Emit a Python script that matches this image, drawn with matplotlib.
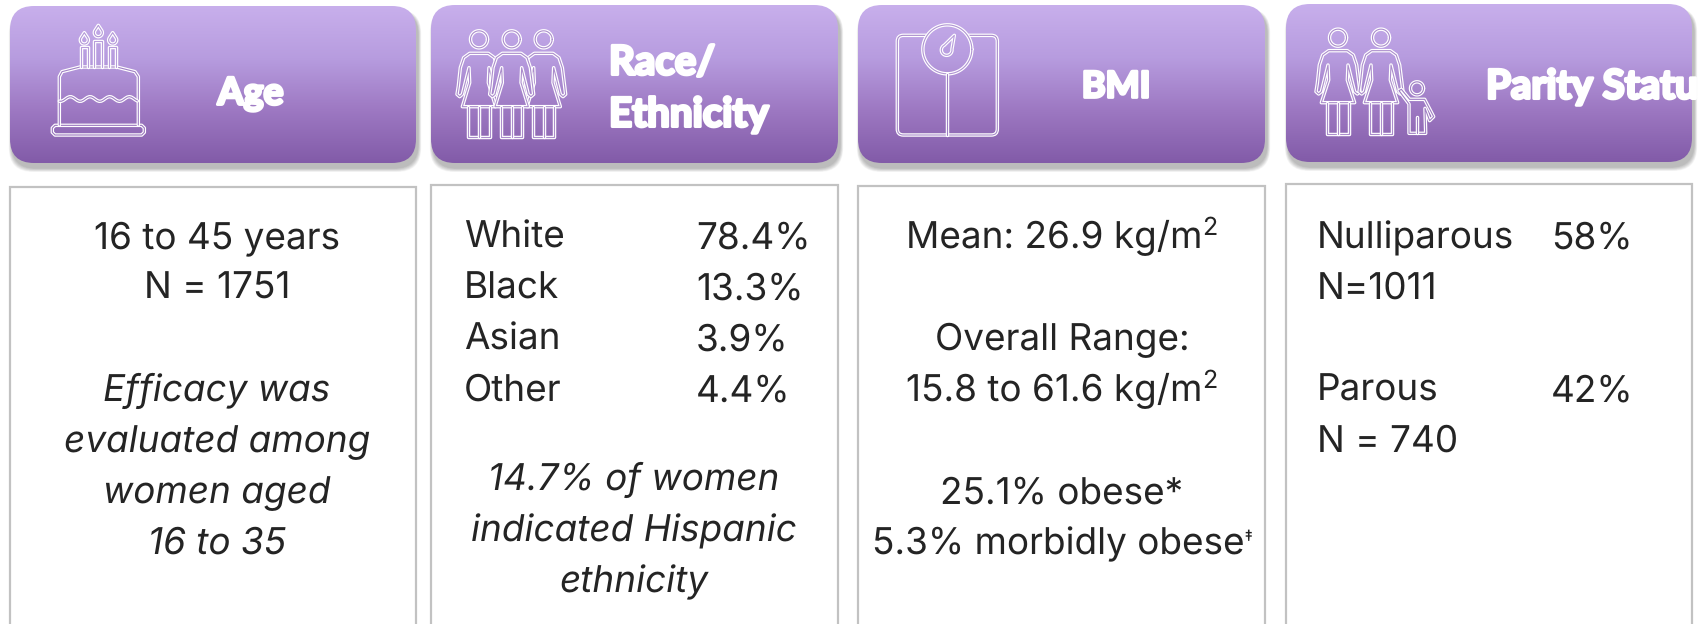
import matplotlib
matplotlib.use("Agg")
import numpy as np
import matplotlib.pyplot as plt
import matplotlib.patheffects as pe
from matplotlib.patches import FancyBboxPatch, Rectangle, PathPatch
from matplotlib.path import Path
from matplotlib.colors import LinearSegmentedColormap

plt.rcParams["text.hinting"] = "no_hinting"
plt.rcParams["text.hinting_factor"] = 1

# ---- content ----
headers = ["Age", "Race/\nEthnicity", "BMI", "Parity Status"]
age_lines = ["16 to 45 years", "N = 1751"]
age_note = ["Efficacy was", "evaluated among", "women aged", "16 to 35"]
race_names = ["White", "Black", "Asian", "Other"]
race_values = ["78.4%", "13.3%", "3.9%", "4.4%"]
race_note = ["14.7% of women", "indicated Hispanic", "ethnicity"]
parity_names = ["Nulliparous", "Parous"]
parity_counts = ["N=1011", "N = 740"]
parity_values = ["58%", "42%"]

W, H = 1703, 624
fig = plt.figure(figsize=(W / 100, H / 100), dpi=100, facecolor="white")
ax = fig.add_axes([0, 0, 1, 1])
ax.set_xlim(0, W); ax.set_ylim(H, 0); ax.axis("off")

FONT = "Inter"
FS = 26.6
TXT = "#242424"
cmap = LinearSegmentedColormap.from_list("h", ["#C8AFEC", "#B79CDF", "#9D78C2", "#825BA8"])
grad = np.linspace(0, 1, 256).reshape(-1, 1)
panels = [(10, 416, 6, 163, 187), (431, 838, 5, 163, 185), (858, 1265, 5, 163, 186), (1286, 1692, 4, 162, 184)]

for x0, x1, y0, y1, by in panels:
    for i in range(8, 0, -1):
        ax.add_patch(FancyBboxPatch((x0 + 2 - i * .4, y0 + 5 - i * .2), x1 - x0 + i * .8, y1 - y0 + i * .7,
                                    boxstyle="round,pad=0,rounding_size=24", fc="#000000", ec="none", alpha=.035, zorder=1))
    p = FancyBboxPatch((x0, y0), x1 - x0, y1 - y0, boxstyle="round,pad=0,rounding_size=24", fc="none", ec="none", zorder=2)
    ax.add_patch(p)
    im = ax.imshow(grad, extent=(x0, x1, y1, y0), cmap=cmap, aspect="auto", zorder=2, interpolation="bilinear")
    im.set_clip_path(p)
    ax.add_patch(Rectangle((x0, by), x1 - x0, H + 20 - by, fc="white", ec="#C2C2C2", lw=1.6, zorder=2))

# ---- outlined icons ----
def stroke(verts, codes=None, closed=False, inner="#A98BCB"):
    if codes is None:
        codes = [Path.MOVETO] + [Path.LINETO] * (len(verts) - 1)
    if closed:
        verts = list(verts) + [verts[0]]; codes = list(codes) + [Path.CLOSEPOLY]
    patch = PathPatch(Path(verts, codes), fc="none", ec=inner, lw=.8, zorder=4, joinstyle="round", capstyle="round",
                      path_effects=[pe.Stroke(linewidth=2.5, foreground="white"), pe.Normal()])
    ax.add_patch(patch)

def circle(cx, cy, r, inner="#A98BCB"):
    t = np.linspace(0, 2 * np.pi, 60)
    stroke(list(zip(cx + r * np.cos(t), cy + r * np.sin(t))), inner=inner)

def smooth(points, ox, s=1 / 3, closed=False, inner="#A98BCB"):
    stroke([(ox + px * s, py * s) for px, py in points], closed=closed, inner=inner)

def drop(cx, cy, r, tx, ty, ox, inner="#B398D8"):
    ang = np.arctan2(ty - cy, tx - cx)
    t = np.linspace(ang + .95, ang + 2 * np.pi - .95, 30)
    smooth([(tx, ty)] + [(cx + r * np.cos(a), cy + r * np.sin(a)) for a in t], ox, closed=True, inner=inner)

def woman(cx, head_y, top, hem, bottom, ox, inner, panel=None):
    body = [(cx - 66, top + 125), (cx - 62, top + 100), (cx - 56, top + 45), (cx - 46, top + 15), (cx - 28, top + 2),
            (cx + 28, top + 2), (cx + 46, top + 15), (cx + 56, top + 45), (cx + 66, top + 125), (cx + 58, top + 132),
            (cx + 50, top + 125), (cx + 30, top + 45), (cx + 28, top + 90), (cx + 50, hem), (cx - 50, hem),
            (cx - 28, top + 90), (cx - 30, top + 45), (cx - 50, top + 125), (cx - 58, top + 132)]
    if panel is not None:  # hide what lies behind this figure with the panel's own gradient
        pts = [(ox + a / 3, b / 3) for a, b in body] + [(ox + body[0][0] / 3, body[0][1] / 3)]
        mask = PathPatch(Path(pts, [Path.MOVETO] + [Path.LINETO] * (len(pts) - 2) + [Path.CLOSEPOLY]),
                         fc="none", ec="none", zorder=4)
        ax.add_patch(mask)
        m = ax.imshow(grad, extent=(panel[0], panel[1], panel[3], panel[2]), cmap=cmap, aspect="auto", zorder=4,
                      interpolation="bilinear")
        m.set_clip_path(mask)
    circle(ox + cx / 3, head_y / 3, 8.5, inner)
    smooth(body, ox, closed=True, inner=inner)
    smooth([(cx - 32, hem), (cx - 32, bottom), (cx + 32, bottom), (cx + 32, hem)], ox, inner=inner)
    smooth([(cx, hem), (cx, bottom)], ox, inner=inner)

# cake
CI = "#B79DDB"
ox = 0
smooth([(165, 376), (425, 376), (433, 384), (433, 397), (425, 405), (165, 405), (157, 397), (157, 384)], ox, closed=True, inner="#9A76BE")
smooth([(178, 375), (178, 230), (186, 215), (240, 201), (350, 201), (405, 215), (415, 230), (415, 375)], ox, inner="#A080C5")
wave_x = np.arange(178, 416, 6)
wave_y = 297 + 7 * np.sin((wave_x - 178) / 59 * 2 * np.pi + 1.2)
smooth(list(zip(wave_x, wave_y)), ox, inner="#A080C5")
for a, b, t in [(242, 264, 142), (283, 305, 122), (327, 349, 142)]:
    smooth([(a, 200), (a, t), (b, t), (b, 200)], ox, inner=CI)
for cx, cy, ty in [(253, 120, 98), (295, 98, 76), (338, 120, 98)]:
    drop(cx, cy, 12, cx, ty, ox)

# race women
woman(356, 118, 158, 320, 412, 425, "#AB8DCC")
woman(162, 118, 158, 320, 412, 425, "#AB8DCC")
woman(260, 118, 158, 320, 412, 425, "#AB8DCC", panel=panels[1])

# scale
ox = 850
corner = [(228, 106), (160, 106), (142, 106), (142, 124), (142, 387), (142, 405), (160, 405), (424, 405),
          (442, 405), (442, 387), (442, 124), (442, 106), (424, 106), (356, 106)]
cds = [Path.MOVETO, Path.LINETO, Path.CURVE3, Path.CURVE3, Path.LINETO, Path.CURVE3, Path.CURVE3, Path.LINETO,
       Path.CURVE3, Path.CURVE3, Path.LINETO, Path.CURVE3, Path.CURVE3, Path.LINETO]
stroke([(ox + a / 3, b / 3) for a, b in corner], cds, inner="#A98BCB")
circle(ox + 292 / 3, 148 / 3, 24.5, "#B094D3")
smooth([(292, 222), (292, 405)], ox, inner="#A080C5")
drop(290, 150, 16, 313, 106, ox, inner="#B79DDB")

# parity family
ox = 1273
woman(195, 113, 150, 308, 403, ox, "#AB8DCC")
woman(324, 113, 150, 308, 403, ox, "#AB8DCC")
circle(ox + 432 / 3, 265 / 3, 6.5, "#9F7FC3")
smooth([(385, 268), (410, 298), (455, 298), (482, 350), (470, 362), (456, 325), (458, 400), (408, 400), (408, 312), (378, 272)],
       ox, closed=True, inner="#9F7FC3")
smooth([(432, 350), (432, 400)], ox, inner="#9F7FC3")

# ---- headers ----
hfx = [pe.withStroke(linewidth=2.2, foreground="white")]
def head(x, y, s, ha="center", size=26, clip=False):
    t = ax.text(x, y, s, color="white", fontsize=size, fontweight="bold", family="Lato", ha=ha, va="center",
                zorder=5, path_effects=hfx)
    if clip:
        t.set_clip_path(Rectangle((0, 0), 1695, H, transform=ax.transData))
    return t
head(251, 94, headers[0], size=27)
a, b = headers[1].split("\n")
head(609, 63, a, ha="left", size=29)
head(609, 115, b, ha="left", size=29)
head(1116, 87, headers[2])
head(1486, 87, headers[3], ha="left", size=29, clip=True)

# ---- body text ----
def body(x, y, s, ha="center", style="normal"):
    return ax.text(x, y, s, fontsize=FS, family=FONT, weight="normal", style=style, color=TXT, ha=ha,
                   va="baseline", zorder=6)

def body_sup(cx, y, s, sup, supsize=18, dy=-13):
    t = body(cx, y, s, ha="left")
    m = ax.text(cx, y + dy, sup, fontsize=supsize, family=FONT, color=TXT, ha="left", va="baseline", zorder=6)
    r = fig.canvas.get_renderer()
    w1 = t.get_window_extent(r).width; w2 = m.get_window_extent(r).width
    left = cx - (w1 + w2) / 2
    t.set_x(left); m.set_x(left + w1)

R = [248, 299, 350, 401, 452, 503, 554, 605]

body(217, R[0], age_lines[0]); body(217, R[1], age_lines[1])
for y, s in zip(R[3:7], age_note):
    body(217, y, s, style="italic")

for i in range(4):
    body(464, R[i], race_names[i], ha="left")
    body(696, R[i], race_values[i], ha="left")
for y, s in zip((490, 541, 592), race_note):
    body(634, y, s, style="italic")

body_sup(1062, R[0], "Mean: 26.9 kg/m", "2")
body(1062, R[2], "Overall Range:")
body_sup(1062, R[3], "15.8 to 61.6 kg/m", "2")
body(1062, 503, "25.1% obese*")
body_sup(1062, 554, "5.3% morbidly obese", "\u2021", supsize=11, dy=-13)

body(1317, R[0], parity_names[0], ha="left"); body(1317, R[1], parity_counts[0], ha="left")
body(1317, R[3], parity_names[1], ha="left"); body(1317, R[4], parity_counts[1], ha="left")
body(1551, R[0], parity_values[0], ha="left"); body(1551, R[3], parity_values[1], ha="left")

ax.set_xlim(0, W); ax.set_ylim(H, 0)
fig.savefig("out.png", dpi=100)
